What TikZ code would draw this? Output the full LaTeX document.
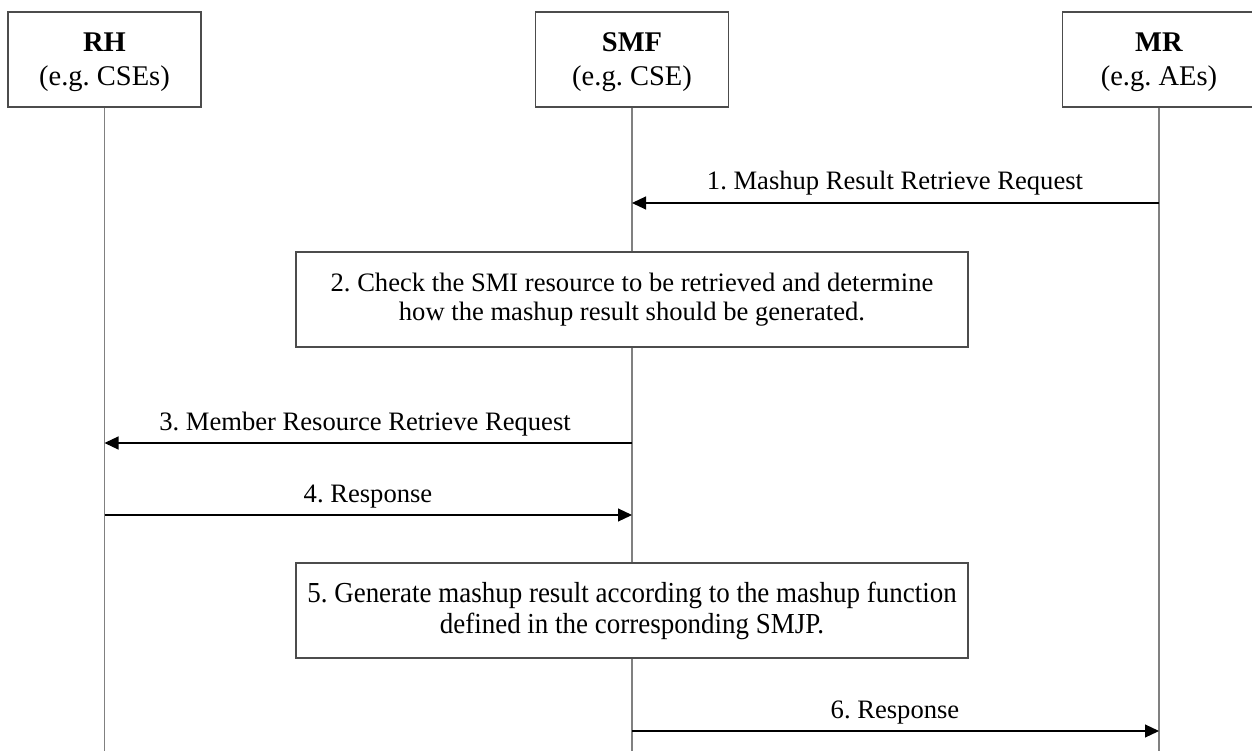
\documentclass[tikz,border=0pt]{standalone}
\usepackage{fontspec}
\setmainfont{Liberation Serif}
\usetikzlibrary{arrows.meta}
\frenchspacing
\begin{document}
\begin{tikzpicture}[x=1pt,y=-1pt,
  entity/.style={draw=black!70,line width=1.2pt,fill=white,minimum width=193pt,minimum height=95pt,inner sep=0pt,align=center,font=\fontsize{28.5}{34}\selectfont},
  stepbox/.style={draw=black!70,line width=1.2pt,fill=white,minimum width=672pt,minimum height=95pt,inner sep=0pt,align=center,font=\fontsize{26.6}{29.5}\selectfont},
  life/.style={draw=black!50,line width=1.5pt},
  msg/.style={draw=black,line width=1.1pt,-{Triangle[length=14pt,width=13pt]}},
  lbl/.style={anchor=base,inner sep=0pt,font=\fontsize{26.6}{30}\selectfont}]
\useasboundingbox (0,0) rectangle (1252,751);
\clip (0,0) rectangle (1252,751);
% lifelines
\coordinate (rhb) at (104.5,751);
\coordinate (smfb) at (632,751);
\coordinate (mrb) at (1159,751);
\node[entity] (rh) at (104.5,59.5) {\rule{0pt}{24pt}\textbf{RH}\\(e.g. CSEs)};
\node[entity] (smf) at (632,59.5) {\rule{0pt}{24pt}\textbf{SMF}\\(e.g. CSE)};
\node[entity] (mr) at (1159,59.5) {\rule{0pt}{24pt}\textbf{MR}\\(e.g. AEs)};
\draw[life] (rh.south) -- (rhb);
\draw[life] (smf.south) -- (smfb);
\draw[life] (mr.south) -- (mrb);
% step boxes
\node[stepbox] (s2) at (632,299.5) {2. Check the SMI resource to be retrieved and determine\\how the mashup result should be generated.};
\node[stepbox,font=\fontsize{29}{31}\selectfont] (s5) at (632,610.5) {\scalebox{0.93}[1]{5. Generate mashup result according to the mashup function}\\\scalebox{0.93}[1]{defined in the corresponding SMJP.}};
% message anchors
\coordinate (m1s) at (1159,203);
\coordinate (m1e) at (632,203);
\coordinate (m3s) at (632,443);
\coordinate (m3e) at (104.5,443);
\coordinate (m4s) at (104.5,515);
\coordinate (m4e) at (632,515);
\coordinate (m6s) at (632,731);
\coordinate (m6e) at (1159,731);
\draw[msg] (m1s) -- (m1e);
\draw[msg] (m3s) -- (m3e);
\draw[msg] (m4s) -- (m4e);
\draw[msg] (m6s) -- (m6e);
\node[lbl] (l1) at (895,190) {1. Mashup Result Retrieve Request};
\node[lbl] (l3) at (365,430) {3. Member Resource Retrieve Request};
\node[lbl] (l4) at (368,502) {4. Response};
\node[lbl] (l6) at (895,718) {6. Response};
\end{tikzpicture}
\end{document}
